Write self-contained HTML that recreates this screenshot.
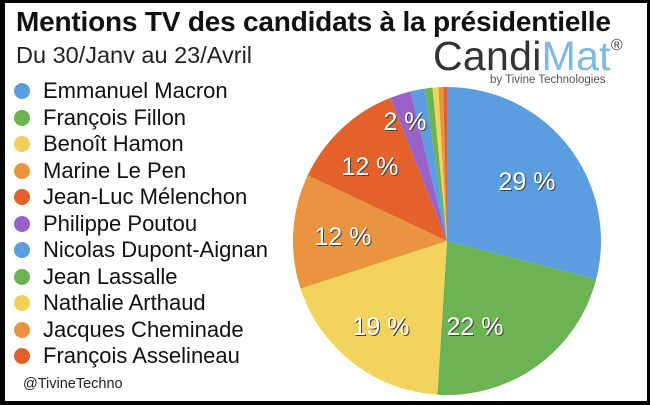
<!DOCTYPE html>
<html><head><meta charset="utf-8"><style>
body{margin:0;background:#000;width:650px;height:405px;overflow:hidden;font-family:"Liberation Sans",sans-serif}
#p{position:absolute;left:5px;top:3px;width:642px;height:398px;background:#fff}
.t{position:absolute;white-space:nowrap;color:#111}
.lg{position:absolute;left:16px;font-size:22px;color:#111;white-space:nowrap;height:26px}
.lg i{position:absolute;left:-2px;top:5px;width:16px;height:16px;border-radius:50%}
.lg span{position:absolute;left:27px;top:0;line-height:26px}
</style></head><body>
<div id="p">
<div class="t" style="left:11px;top:3px;font-size:28px;font-weight:bold;letter-spacing:-0.2px">Mentions TV des candidats à la présidentielle</div>
<div class="t" style="left:11px;top:39px;font-size:23.5px;color:#222">Du 30/Janv au 23/Avril</div>
<div class="t" style="left:428px;top:30px;font-size:41px;color:#333;letter-spacing:0.3px">Candi<span style="color:#7fb8e6">Mat</span><sup style="font-size:16px;color:#444;vertical-align:20px">®</sup></div>
<div class="t" style="left:485px;top:71px;font-size:11.5px;color:#555">by Tivine Technologies</div>
<div class="t" style="left:18px;top:373px;font-size:14.5px;color:#222">@TivineTechno</div>
</div>
<div class="lg" style="top:78px"><i style="background:#5a9ee0"></i><span>Emmanuel Macron</span></div>
<div class="lg" style="top:104.5px"><i style="background:#6cb452"></i><span>François Fillon</span></div>
<div class="lg" style="top:131px"><i style="background:#f0cf5a"></i><span>Benoît Hamon</span></div>
<div class="lg" style="top:157.5px"><i style="background:#e9953f"></i><span>Marine Le Pen</span></div>
<div class="lg" style="top:184px"><i style="background:#e3622c"></i><span>Jean-Luc Mélenchon</span></div>
<div class="lg" style="top:210.5px"><i style="background:#9a62c8"></i><span>Philippe Poutou</span></div>
<div class="lg" style="top:237px"><i style="background:#5a9ee0"></i><span>Nicolas Dupont-Aignan</span></div>
<div class="lg" style="top:263.5px"><i style="background:#6cb452"></i><span>Jean Lassalle</span></div>
<div class="lg" style="top:290px"><i style="background:#f0cf5a"></i><span>Nathalie Arthaud</span></div>
<div class="lg" style="top:316.5px"><i style="background:#e9953f"></i><span>Jacques Cheminade</span></div>
<div class="lg" style="top:343px"><i style="background:#e3622c"></i><span>François Asselineau</span></div>
<svg id="pie" width="650" height="405" style="position:absolute;left:0;top:0"></svg>
<script>
var d=[[29,'#5a9ee0'],[22,'#6cb452'],[19,'#f2d35e'],[12,'#e9953f'],[12,'#e3622c'],[2.2,'#9a62c8'],[1.5,'#5a9ee0'],[0.8,'#6cb452'],[0.6,'#f2d35e'],[0.5,'#e9953f'],[0.4,'#e3622c']];
var cx=447,cy=241,r=154,a=0,s='';
function pt(t,rr){t=t/100*2*Math.PI;return[cx+rr*Math.sin(t),cy-rr*Math.cos(t)];}
d.forEach(function(e){var p1=pt(a,r),p2=pt(a+e[0],r);s+='<path d="M'+cx+','+cy+'L'+p1+'A'+r+','+r+' 0 '+(e[0]>50?1:0)+',1 '+p2+'Z" fill="'+e[1]+'"/>';a+=e[0];});
var L=[[527,190,'29 %'],[475,335,'22 %'],[381,335,'19 %'],[343,245,'12 %'],[370,175,'12 %'],[405,130,'2 %']];
L.forEach(function(l){s+='<text x="'+(l[0]+1)+'" y="'+(l[1]+1)+'" font-size="25" fill="#444" text-anchor="middle" font-family="Liberation Sans">'+l[2]+'</text><text x="'+l[0]+'" y="'+l[1]+'" font-size="25" fill="#fff" text-anchor="middle" font-family="Liberation Sans">'+l[2]+'</text>';});
document.getElementById('pie').innerHTML=s;
</script>
</body></html>
